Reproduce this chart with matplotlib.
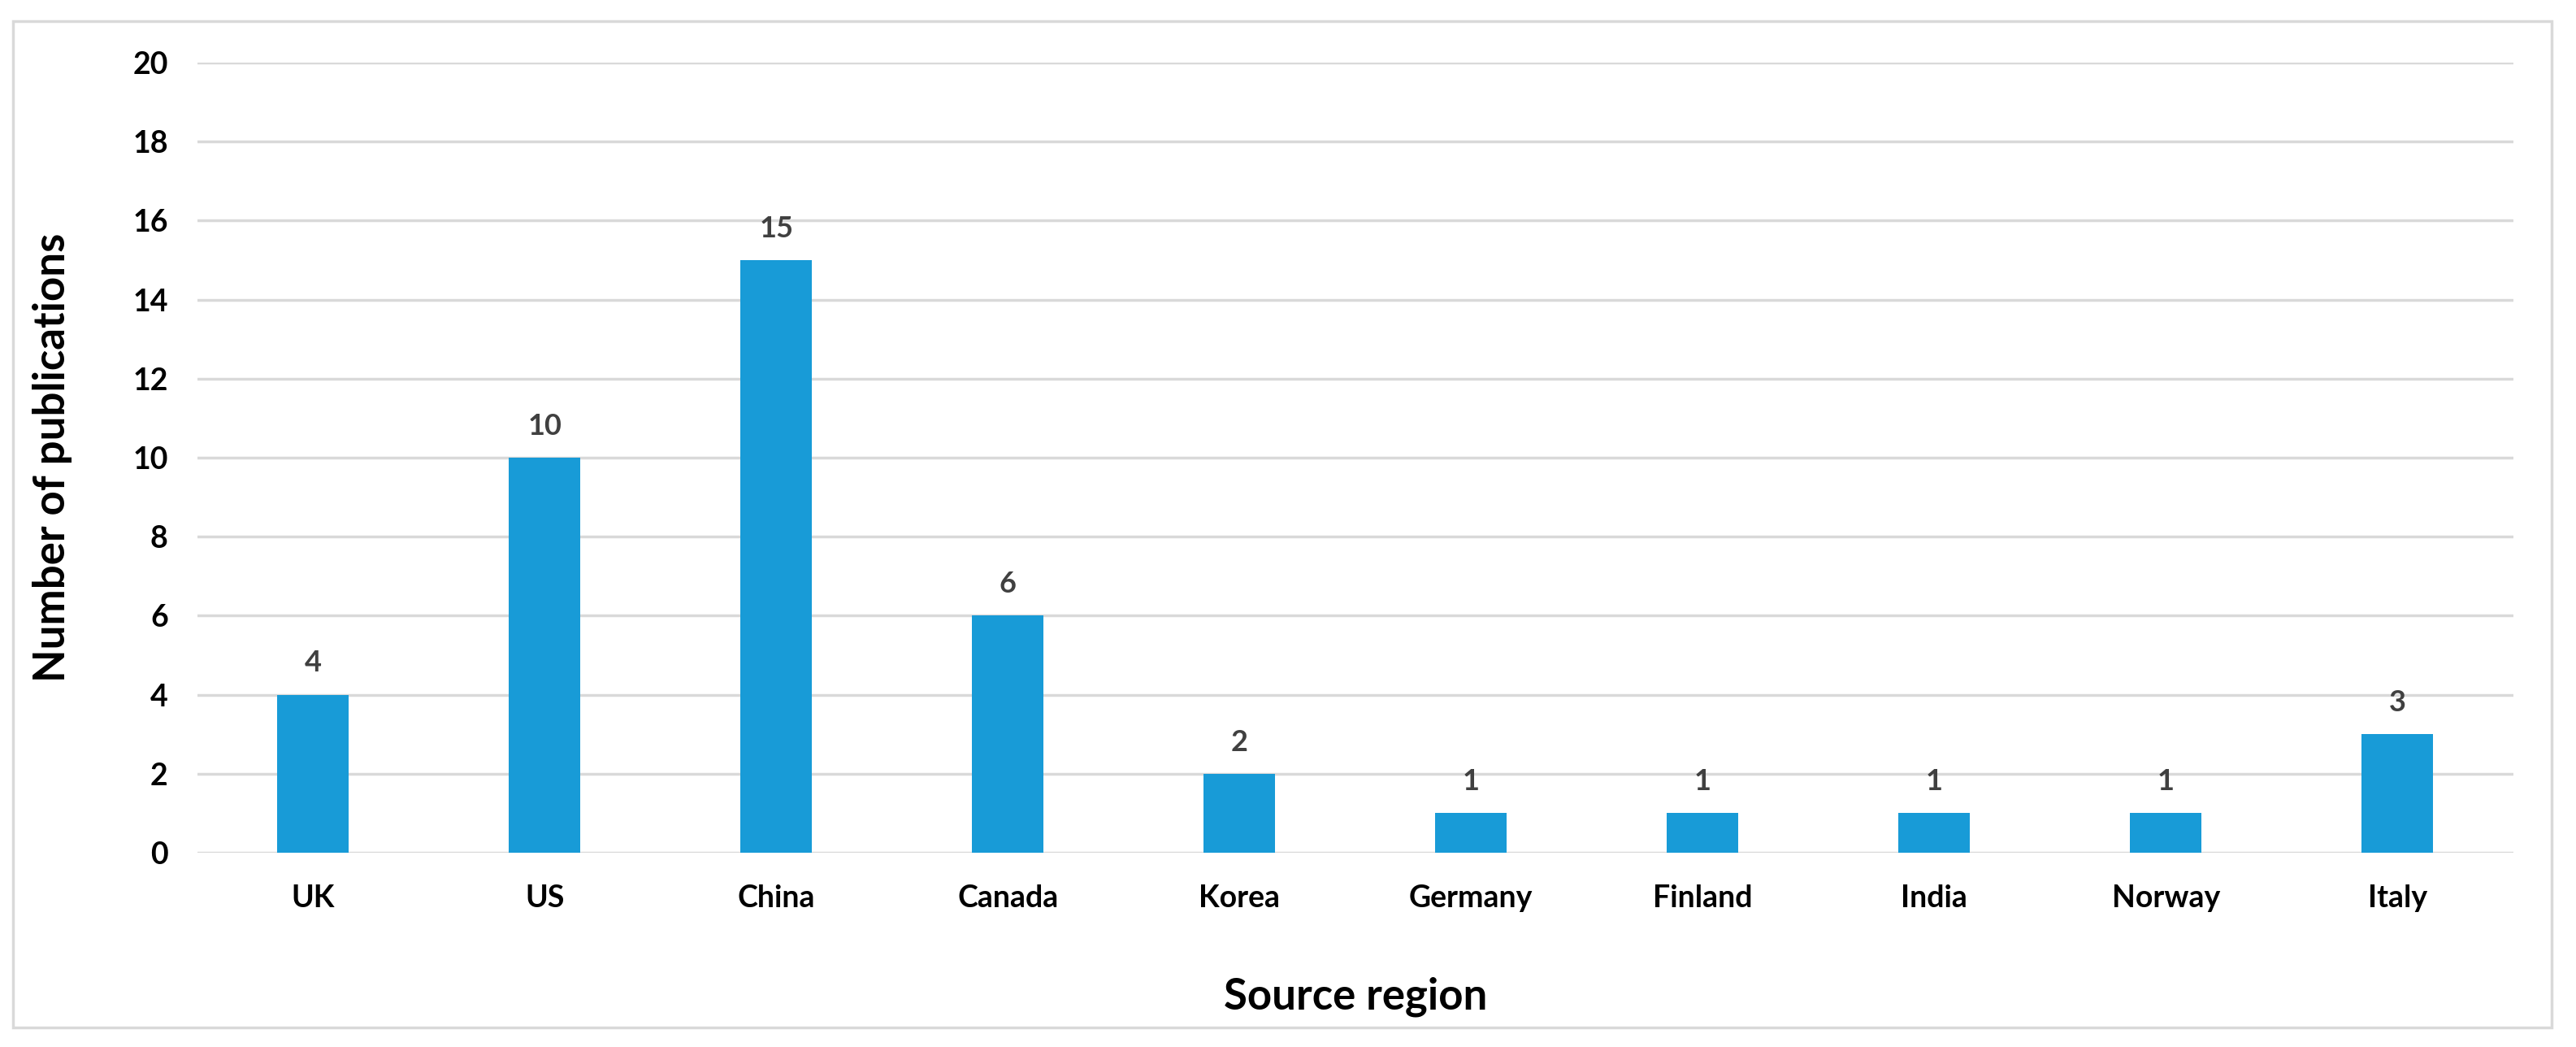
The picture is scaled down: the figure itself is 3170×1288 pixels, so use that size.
from matplotlib import pyplot as plt
from matplotlib.patches import Rectangle

# publications per source region
regions = ['UK', 'US', 'China', 'Canada', 'Korea', 'Germany', 'Finland', 'India', 'Norway', 'Italy']
counts = [4, 10, 15, 6, 2, 1, 1, 1, 1, 3]

y_ticks = [0, 2, 4, 6, 8, 10, 12, 14, 16, 18, 20]

plt.rcParams['font.family'] = ['Lato', 'DejaVu Sans']

fig = plt.figure(figsize=[31.7, 12.88], dpi=100)
ax = fig.add_axes([0.0766, 0.1856, 0.899, 0.7547])

# outer frame round the chart
fig.patches.append(Rectangle((0.005, 0.0186), 0.9855, 0.9614, transform=fig.transFigure,
                             fill=False, edgecolor='#d9d9d9', linewidth=2.5))

x = list(range(len(regions)))
bars = ax.bar(x, counts, width=0.31, color='#189bd7', zorder=3)

for rect, val in zip(bars, counts):
    ax.annotate(str(val), (rect.get_x() + rect.get_width() / 2, val),
                xytext=(0, 16), textcoords='offset points',
                ha='center', va='bottom', fontsize=26, fontweight='bold', color='#404040')

ax.set_xlim(-0.5, len(regions) - 0.5)
ax.set_ylim(0, 20)
ax.set_yticks(y_ticks)
ax.set_xticks(x)
ax.set_xticklabels(regions, fontsize=27, fontweight='bold')
ax.set_yticklabels([str(t) for t in y_ticks], fontsize=27, fontweight='bold')

ax.grid(axis='y', color='#d9d9d9', linewidth=2.5, zorder=0)
ax.tick_params(axis='both', length=0)
ax.tick_params(axis='y', pad=26)
ax.tick_params(axis='x', pad=28)
for s in ax.spines.values():
    s.set_visible(False)

ax.set_ylabel('Number of publications', fontsize=38, fontweight='bold')
ax.set_xlabel('Source region', fontsize=38, fontweight='bold')
ax.yaxis.set_label_coords(-0.054, 0.5)
ax.xaxis.set_label_coords(0.5, -0.157)

plt.savefig('out.png')
